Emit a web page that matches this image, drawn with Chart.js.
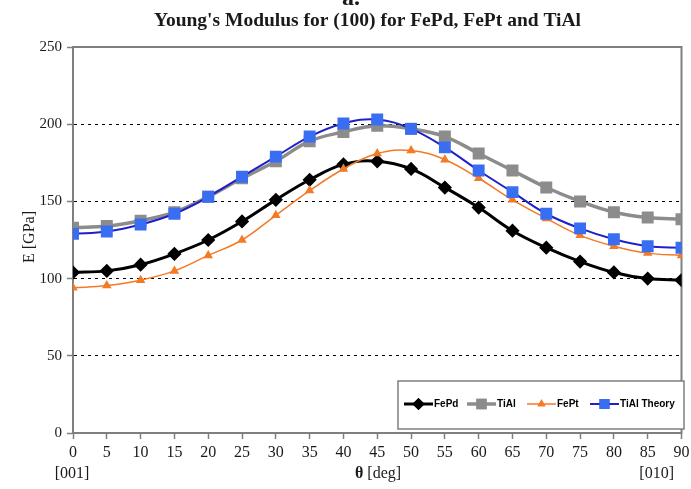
<!DOCTYPE html>
<html>
<head>
<meta charset="utf-8">
<script src="https://cdn.jsdelivr.net/npm/chart.js@4/dist/chart.umd.min.js"></script>
<style>
  html, body { margin: 0; padding: 0; background: #fff; }
  #wrap { width: 691px; height: 489px; position: relative; }
</style>
</head>
<body>
<div id="wrap"><canvas id="c" width="691" height="489"></canvas></div>
<script>
// Rotation angle theta [deg] from [001] to [010]
const angles = [0, 5, 10, 15, 20, 25, 30, 35, 40, 45, 50, 55, 60, 65, 70, 75, 80, 85, 90];

// Young's modulus E [GPa]
const fePd       = [104, 105, 109, 116, 125, 137, 151, 164, 174, 176, 171, 159, 146, 131, 120, 111, 104, 100, 99];
const tiAl       = [133, 134, 137.5, 143, 153, 165, 176, 189, 195, 199, 197, 192, 181, 170, 159, 150, 143, 139.5, 138.5];
const fePt       = [94, 95.5, 99, 105, 115, 125, 141, 157, 171, 181, 183, 177, 165, 151, 139, 128, 121, 116.5, 115];
const tiAlTheory = [129, 130.5, 135, 142, 153, 166, 179, 192, 200.5, 203, 197, 185, 170, 156, 142, 132.5, 125.5, 121, 120];

const seriesNames = ['FePd', 'TiAl', 'FePt', 'TiAl Theory'];
const titleText = "Young's Modulus for (100) for FePd, FePt and TiAl";

const SERIF = "'Liberation Serif', 'Times New Roman', serif";
const SANS = "'Liberation Sans', Arial, sans-serif";

const toPoints = vals => angles.map((a, i) => ({ x: a, y: vals[i] }));

// Frame around the plot area, title, axis captions and the inset legend
const decorations = {
  id: 'decorations',
  beforeDatasetsDraw(chart) {
    const { ctx, chartArea: a } = chart;
    ctx.save();
    ctx.strokeStyle = '#7f7f7f';
    ctx.lineWidth = 2;
    ctx.strokeRect(a.left, a.top, a.right - a.left, a.bottom - a.top);
    ctx.restore();
  },
  afterDraw(chart) {
    const { ctx } = chart;
    ctx.save();
    ctx.fillStyle = '#1a1a1a';

    // heading letter and title
    ctx.font = "bold 24px " + SERIF;
    ctx.textAlign = 'center';
    ctx.textBaseline = 'alphabetic';
    ctx.fillText('a.', 351, 5);
    ctx.font = "bold 19.5px " + SERIF;
    ctx.fillText(titleText, 367.5, 26);

    // x axis captions
    ctx.font = "16px " + SERIF;
    ctx.textBaseline = 'middle';
    ctx.textAlign = 'center';
    ctx.fillText('[001]', 72, 474);
    ctx.textAlign = 'right';
    ctx.fillText('[010]', 674, 474);

    const boldPart = '\u03B8';
    const rest = ' [deg]';
    ctx.font = "bold 16px " + SERIF;
    const w1 = ctx.measureText(boldPart).width;
    ctx.font = "16px " + SERIF;
    const w2 = ctx.measureText(rest).width;
    const x0 = 378 - (w1 + w2) / 2;
    ctx.textAlign = 'left';
    ctx.font = "bold 16px " + SERIF;
    ctx.fillText(boldPart, x0, 474);
    ctx.font = "16px " + SERIF;
    ctx.fillText(rest, x0 + w1, 474);

    // y axis caption
    ctx.translate(30, 237);
    ctx.rotate(-Math.PI / 2);
    ctx.textAlign = 'center';
    ctx.fillText('E [GPa]', 0, 0);
    ctx.restore();

    // legend box
    ctx.save();
    const bx = 398, by = 381, bw = 286, bh = 48;
    ctx.fillStyle = '#fff';
    ctx.fillRect(bx, by, bw, bh);
    ctx.strokeStyle = '#7f7f7f';
    ctx.lineWidth = 1.5;
    ctx.strokeRect(bx, by, bw, bh);
    const cy = 404;
    const itemX = [404, 467, 527, 590];
    chart.data.datasets.forEach((ds, i) => {
      const x = itemX[i];
      ctx.strokeStyle = ds.borderColor;
      ctx.lineWidth = ds.borderWidth;
      ctx.beginPath();
      ctx.moveTo(x, cy);
      ctx.lineTo(x + 29, cy);
      ctx.stroke();
      Chart.helpers.drawPoint(ctx, {
        pointStyle: ds.pointStyle,
        radius: ds.pointRadius * 0.8,
        borderWidth: 1,
        rotation: 0
      }, x + 14.5, cy);
      ctx.fillStyle = ds.pointBackgroundColor;
      ctx.strokeStyle = ds.pointBorderColor;
      ctx.fill();
      ctx.stroke();
      ctx.fillStyle = '#000';
      ctx.font = "bold 10px " + SANS;
      ctx.textAlign = 'left';
      ctx.textBaseline = 'middle';
      ctx.fillText(ds.label, x + 30, cy);
    });
    ctx.restore();
  }
};

const chart = new Chart(document.getElementById('c'), {
  type: 'line',
  data: {
    datasets: [
      {
        label: seriesNames[0], data: toPoints(fePd), order: 4,
        borderColor: '#000000', borderWidth: 3,
        pointStyle: 'rectRot', pointRadius: 5,
        pointBackgroundColor: '#000000', pointBorderColor: '#000000',
        tension: 0.4
      },
      {
        label: seriesNames[1], data: toPoints(tiAl), order: 3,
        borderColor: '#8c8c8c', borderWidth: 3.5,
        pointStyle: 'rect', pointRadius: 6,
        pointBackgroundColor: '#8c8c8c', pointBorderColor: '#8c8c8c',
        tension: 0.4
      },
      {
        label: seriesNames[2], data: toPoints(fePt), order: 2,
        borderColor: '#f47a26', borderWidth: 1.5,
        pointStyle: 'triangle', pointRadius: 4,
        pointBackgroundColor: '#f47a26', pointBorderColor: '#f47a26',
        tension: 0.4
      },
      {
        label: seriesNames[3], data: toPoints(tiAlTheory), order: 1,
        borderColor: '#2020c8', borderWidth: 2,
        pointStyle: 'rect', pointRadius: 7,
        pointBackgroundColor: '#3a6ef2', pointBorderColor: '#3a6ef2',
        tension: 0.4
      }
    ]
  },
  options: {
    responsive: false,
    animation: false,
    events: [],
    layout: { padding: { left: 20, right: 3, top: 47, bottom: 0 } },
    plugins: {
      legend: { display: false },
      tooltip: { enabled: false },
      title: { display: false }
    },
    scales: {
      x: {
        type: 'linear', min: 0, max: 90,
        ticks: {
          stepSize: 5, color: '#1a1a1a', padding: 4, maxRotation: 0, autoSkip: false,
          font: { family: SERIF, size: 16 }
        },
        grid: { drawOnChartArea: false, tickLength: 6, tickColor: '#7f7f7f', tickWidth: 1.5 },
        border: { display: true, color: '#7f7f7f', width: 2 },
        afterFit(scale) { scale.height = 56; scale.paddingLeft = 0; scale.paddingRight = 0; }
      },
      y: {
        min: 0, max: 250,
        ticks: {
          stepSize: 50, color: '#1a1a1a', padding: 5,
          font: { family: SERIF, size: 15 }
        },
        grid: {
          color: ctx => (ctx.tick && (ctx.tick.value === 0 || ctx.tick.value === 250)) ? 'rgba(0,0,0,0)' : '#000',
          lineWidth: 1,
          tickLength: 6, tickColor: '#7f7f7f', tickWidth: 1.5, tickBorderDash: []
        },
        border: { display: true, color: '#7f7f7f', width: 2, dash: [3, 4] },
        afterFit(scale) { scale.width = 53; scale.paddingTop = 0; scale.paddingBottom = 0; }
      }
    }
  },
  plugins: [decorations]
});
</script>
</body>
</html>
